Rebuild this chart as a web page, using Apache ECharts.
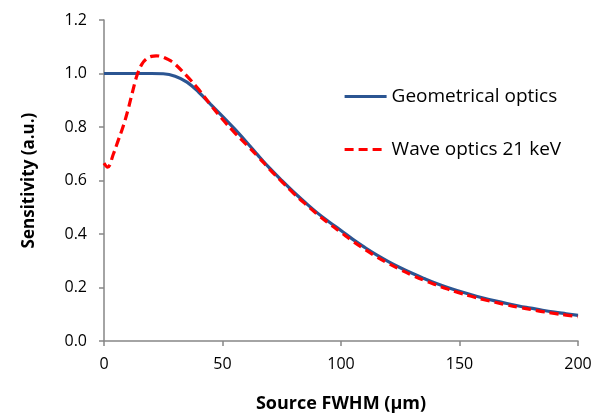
<!DOCTYPE html>
<html><head><meta charset="utf-8">
<script src="https://cdn.jsdelivr.net/npm/echarts@6/dist/echarts.min.js"></script>
<style>html,body{margin:0;padding:0;background:#fff}#c{width:602px;height:418px}</style>
</head><body><div id="c"></div>
<script>
var geoX = [0,5,10,15,20,25,30,35,40,45,50,55,60,65,70,75,80,85,90,95,100,105,110,115,120,125,130,135,140,145,150,155,160,165,170,175,180,185,190,195,200];
var geoY = [1.0,1.0,1.0,1.0,1.0,0.999,0.99,0.968,0.93,0.885,0.84,0.794,0.745,0.694,0.645,0.6,0.557,0.517,0.479,0.445,0.413,0.38,0.35,0.322,0.297,0.274,0.253,0.234,0.216,0.2,0.186,0.173,0.161,0.15,0.14,0.131,0.123,0.115,0.108,0.102,0.096];
var waveX = [0,1.5,4,6,8,10,12,14,16,18,20,22,24,26,28,30,35,40,45,50,55,60,65,70,75,80,85,90,95,100,105,110,115,120,125,130,135,140,145,150,155,160,165,170,175,180,185,190,195,200];
var waveY = [0.665,0.65,0.70,0.75,0.80,0.86,0.93,0.995,1.035,1.055,1.064,1.066,1.064,1.057,1.048,1.035,0.99,0.94,0.882,0.829,0.78,0.735,0.689,0.641,0.596,0.552,0.512,0.474,0.439,0.406,0.373,0.343,0.315,0.29,0.267,0.246,0.227,0.21,0.194,0.18,0.167,0.155,0.145,0.135,0.126,0.118,0.11,0.103,0.097,0.091];
var names = ['Geometrical optics','Wave optics 21 keV'];
function pairs(xs, ys){ return xs.map(function(x,i){return [x, ys[i]];}); }
var font = "'Open Sans', 'Liberation Sans', sans-serif";
var chart = echarts.init(document.getElementById('c'));
chart.setOption({
  animation:false,
  backgroundColor:'#fff',
  textStyle:{fontFamily:font},
  grid:{left:104,right:24,top:20,bottom:75},
  legend:{
    orient:'vertical', left:338, top:82, itemGap:34, itemWidth:42, itemHeight:14,
    itemStyle:{opacity:0},
    lineStyle:{width:3.2},
    textStyle:{fontSize:19,color:'#000',fontFamily:font},
    data:names
  },
  xAxis:{
    type:'value', min:0, max:200, interval:50,
    axisLine:{lineStyle:{color:'#868686',width:1.5}},
    axisTick:{show:true,length:5,lineStyle:{color:'#868686',width:1.5}},
    splitLine:{show:false},
    axisLabel:{color:'#000',fontSize:16,margin:15},
    name:'Source FWHM (µm)', nameLocation:'middle', nameGap:54,
    nameTextStyle:{fontSize:18,fontWeight:'bold',color:'#000'}
  },
  yAxis:{
    type:'value', min:0, max:1.2, interval:0.2,
    axisLine:{show:true,lineStyle:{color:'#868686',width:1.5}},
    axisTick:{show:true,length:5,lineStyle:{color:'#868686',width:1.5}},
    splitLine:{show:false},
    axisLabel:{color:'#000',fontSize:16,margin:17,formatter:function(v){return v.toFixed(1);}},
    name:'Sensitivity (a.u.)', nameLocation:'middle', nameGap:66, nameRotate:90,
    nameTextStyle:{fontSize:17,fontWeight:'bold',color:'#000'}
  },
  series:[
    {name:names[0],type:'line',data:pairs(geoX,geoY),smooth:0.4,symbol:'none',
     itemStyle:{color:'#2B5592'},lineStyle:{color:'#2B5592',width:3.2},z:2},
    {name:names[1],type:'line',data:pairs(waveX,waveY),smooth:0.4,symbol:'none',
     itemStyle:{color:'#FF0000'},lineStyle:{color:'#FF0000',width:3.2,type:[9,5]},z:3}
  ]
});
</script></body></html>
